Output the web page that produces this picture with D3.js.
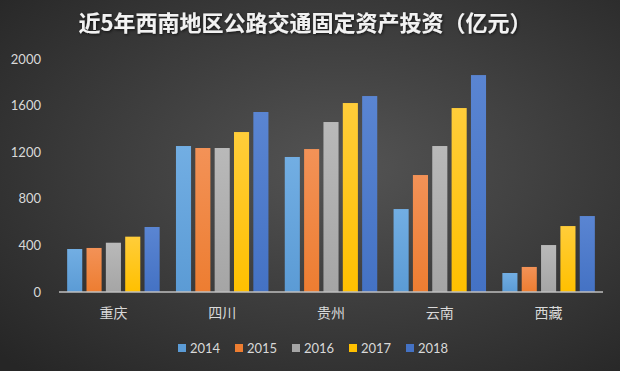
<!DOCTYPE html>
<html>
<head>
<meta charset="utf-8">
<script src="https://cdn.jsdelivr.net/npm/d3@7"></script>
<style>
  body { margin: 0; background: #333; }
  svg { display: block; }
</style>
</head>
<body>
<svg id="chart" width="620" height="371"></svg>
<script>
var regions = ["重庆", "四川", "贵州", "云南", "西藏"];
var years = ["2014", "2015", "2016", "2017", "2018"];
var v2014 = [369, 1253, 1159, 712, 163];
var v2015 = [378, 1236, 1227, 1004, 215];
var v2016 = [423, 1236, 1459, 1253, 403];
var v2017 = [475, 1373, 1622, 1579, 566];
var v2018 = [558, 1545, 1682, 1862, 652];
var yTicks = [0, 400, 800, 1200, 1600, 2000];
var colors = ["#5B9BD5", "#ED7D31", "#A5A5A5", "#FFC000", "#4472C4"];
var lightColors = ["#72aee3", "#f39257", "#b9b9b9", "#ffcd3a", "#5a85d2"];

var series = [v2014, v2015, v2016, v2017, v2018];

var svg = d3.select("#chart"),
    margin = {top: 59, right: 17, bottom: 79, left: 59},
    width = svg.attr("width") - margin.left - margin.right,
    height = svg.attr("height") - margin.top - margin.bottom;

var defs = svg.append("defs");
var bg = defs.append("radialGradient")
    .attr("id", "bg")
    .attr("cx", "55%").attr("cy", "45%").attr("r", "75%");
bg.append("stop").attr("offset", "0%").attr("stop-color", "#545454");
bg.append("stop").attr("offset", "100%").attr("stop-color", "#262626");

years.forEach(function(y, i) {
    var lg = defs.append("linearGradient")
        .attr("id", "g" + i)
        .attr("x1", 0).attr("y1", 0).attr("x2", 0).attr("y2", 1);
    lg.append("stop").attr("offset", "0%").attr("stop-color", lightColors[i]);
    lg.append("stop").attr("offset", "100%").attr("stop-color", colors[i]);
});

var shadow = defs.append("filter").attr("id", "ts")
    .attr("x", "-10%").attr("y", "-30%").attr("width", "120%").attr("height", "160%");
shadow.append("feDropShadow").attr("dx", 1).attr("dy", 1).attr("stdDeviation", 1.5)
    .attr("flood-color", "#000").attr("flood-opacity", 0.7);

svg.append("rect")
    .attr("width", 620).attr("height", 371)
    .attr("fill", "url(#bg)");

svg.append("text")
    .attr("x", 305).attr("y", 23)
    .attr("dy", ".35em")
    .attr("text-anchor", "middle")
    .attr("fill", "#f2f2f2")
    .attr("filter", "url(#ts)")
    .style("font-family", "'Noto Sans CJK SC', sans-serif")
    .style("font-size", "22px")
    .style("font-weight", "bold")
    .text("近5年西南地区公路交通固定资产投资（亿元）");

var x0 = d3.scaleBand().domain(regions).range([0, width]).paddingInner(0.15).paddingOuter(0.075);
var x1 = d3.scaleBand().domain(years).range([0, x0.bandwidth()]).paddingInner(0.22);
var y = d3.scaleLinear().domain([0, 2000]).range([height, 0]);

var g = svg.append("g")
    .attr("transform", "translate(" + margin.left + "," + margin.top + ")");

var groups = g.selectAll(".grp")
    .data(regions)
    .enter().append("g")
    .attr("class", "grp")
    .attr("transform", function(d) { return "translate(" + x0(d) + ",0)"; });

groups.selectAll("rect")
    .data(function(d, ri) { return years.map(function(yr, si) { return {year: yr, si: si, value: series[si][ri]}; }); })
    .enter().append("rect")
    .attr("x", function(d) { return x1(d.year); })
    .attr("y", function(d) { return y(d.value); })
    .attr("width", x1.bandwidth())
    .attr("height", function(d) { return height - y(d.value); })
    .attr("fill", function(d) { return "url(#g" + d.si + ")"; });

// y axis labels
g.selectAll(".ytick")
    .data(yTicks)
    .enter().append("text")
    .attr("class", "ytick")
    .attr("x", -18)
    .attr("y", function(d) { return y(d); })
    .attr("dy", ".35em")
    .attr("text-anchor", "end")
    .attr("fill", "#d9d9d9")
    .style("font-family", "Lato, 'Open Sans', sans-serif")
    .style("font-size", "13px")
    .text(function(d) { return d; });

// x axis
g.append("line")
    .attr("x1", 0).attr("x2", width)
    .attr("y1", height).attr("y2", height)
    .attr("stroke", "#bfbfbf")
    .attr("stroke-width", 1.5);

g.selectAll(".xlab")
    .data(regions)
    .enter().append("text")
    .attr("class", "xlab")
    .attr("x", function(d) { return x0(d) + x0.bandwidth() / 2; })
    .attr("y", height + 21)
    .attr("dy", ".35em")
    .attr("text-anchor", "middle")
    .attr("fill", "#d9d9d9")
    .style("font-family", "'Noto Sans CJK SC', sans-serif")
    .style("font-size", "14px")
    .text(function(d) { return d; });

// legend
var legend = svg.append("g")
    .attr("transform", "translate(178,348)");

var item = legend.selectAll(".leg")
    .data(years)
    .enter().append("g")
    .attr("class", "leg")
    .attr("transform", function(d, i) { return "translate(" + (i * 57) + ",0)"; });

item.append("rect")
    .attr("x", 0).attr("y", -4)
    .attr("width", 8).attr("height", 8)
    .attr("fill", function(d, i) { return colors[i]; });

item.append("text")
    .attr("x", 12).attr("y", 0)
    .attr("dy", ".35em")
    .attr("fill", "#d9d9d9")
    .style("font-family", "Lato, 'Open Sans', sans-serif")
    .style("font-size", "13px")
    .text(function(d) { return d; });
</script>
</body>
</html>
